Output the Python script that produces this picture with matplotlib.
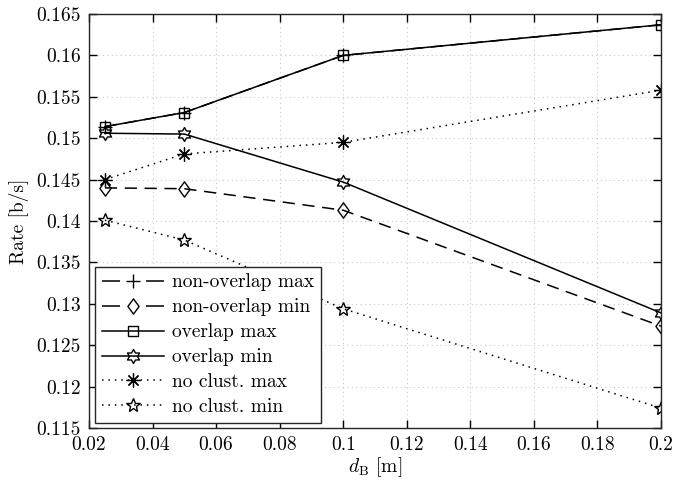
import numpy as np
import matplotlib
matplotlib.use("Agg")
import matplotlib.pyplot as plt
from matplotlib.path import Path
from matplotlib.ticker import FixedLocator, FuncFormatter

plt.rcParams['font.family'] = 'serif'
plt.rcParams['font.serif'] = ['cmr10', 'DejaVu Serif']
plt.rcParams['mathtext.fontset'] = 'cm'
plt.rcParams['axes.formatter.use_mathtext'] = True
plt.rcParams['font.size'] = 14

# distance d_B [m]
d_B = [0.025, 0.05, 0.1, 0.2]

# rates [b/s]
nonoverlap_max = [0.1514, 0.1531, 0.1600, 0.1637]
nonoverlap_min = [0.1440, 0.1439, 0.1413, 0.1273]
overlap_max = [0.1514, 0.1531, 0.1600, 0.1637]
overlap_min = [0.1506, 0.1505, 0.1447, 0.1289]
noclust_max = [0.1450, 0.1481, 0.1495, 0.1558]
noclust_min = [0.1401, 0.1377, 0.1294, 0.1174]

labels = ['non-overlap max', 'non-overlap min', 'overlap max',
          'overlap min', 'no clust. max', 'no clust. min']

x_ticks = [0.02, 0.04, 0.06, 0.08, 0.1, 0.12, 0.14, 0.16, 0.18, 0.2]
y_ticks = [0.115, 0.12, 0.125, 0.13, 0.135, 0.14, 0.145, 0.15, 0.155, 0.16, 0.165]

# six-pointed star outline
ang_out = np.deg2rad(90 + 60 * np.arange(6))
ang_in = ang_out + np.deg2rad(30)
r_in = 1 / np.sqrt(3)
hex_verts = []
for a, b in zip(ang_out, ang_in):
    hex_verts.append((np.cos(a), np.sin(a)))
    hex_verts.append((r_in * np.cos(b), r_in * np.sin(b)))
hex_verts.append(hex_verts[0])
hexagram = Path(hex_verts, closed=True)

diamond = Path([(0, 1), (0.73, 0), (0, -1), (-0.73, 0), (0, 1)], closed=True)

fig = plt.figure(figsize=(6.75, 4.82), dpi=100)
ax = fig.add_axes([89 / 675, 1 - 428 / 482, (661 - 89) / 675, (428 - 14) / 482])

lw = 1.1
dashed = (0, (8, 5))
dotted = (0, (1, 3.2))
common = dict(color='k', lw=lw, markerfacecolor='none', markeredgecolor='k',
              markeredgewidth=1.0)
ax.plot(d_B, nonoverlap_max, ls=dashed, marker='+', ms=10, label=labels[0], **common)
ax.plot(d_B, nonoverlap_min, ls=dashed, marker=diamond, ms=11, label=labels[1], **common)
ax.plot(d_B, overlap_max, ls='-', marker='s', ms=7, label=labels[2], **common)
ax.plot(d_B, overlap_min, ls='-', marker=hexagram, ms=10, label=labels[3], **common)
ax.plot(d_B, noclust_max, ls=dotted, marker=(8, 2, 0), ms=10, label=labels[4],
        **{**common, 'markeredgewidth': 0.9})
ax.plot(d_B, noclust_min, ls=dotted, marker='*', ms=10, label=labels[5], **common)

ax.set_xlim(0.02, 0.2)
ax.set_ylim(0.115, 0.165)
ax.xaxis.set_major_locator(FixedLocator(x_ticks))
ax.yaxis.set_major_locator(FixedLocator(y_ticks))
fmt = FuncFormatter(lambda v, p: f'{v:g}')
ax.xaxis.set_major_formatter(fmt)
ax.yaxis.set_major_formatter(fmt)

ax.grid(True, ls=(0, (1, 3)), color='#c8c8c8', lw=0.8)
ax.tick_params(direction='in', top=True, right=True, length=6, width=1.0,
               labelsize=14, pad=6, colors='k')
for s in ax.spines.values():
    s.set_linewidth(1.0)
    s.set_color('#262626')

ax.set_xlabel(r'$d_{\mathrm{B}}$ [m]', fontsize=14, labelpad=1)
ax.set_ylabel('Rate [b/s]', fontsize=14, labelpad=5)

leg = ax.legend(loc='lower left', bbox_to_anchor=(0.0105, 0.012), borderaxespad=0,
                handlelength=3.2, handletextpad=0.4, labelspacing=0.36,
                borderpad=0.35, fancybox=False, framealpha=1, fontsize=14)
leg.get_frame().set_edgecolor('#262626')
leg.get_frame().set_linewidth(1.0)
# dashed legend keys: one dash on each side of the marker
for line in leg.get_lines()[:2]:
    line.set_linestyle((0, (11.8, 17)))

fig.savefig('out.png', dpi=100)
